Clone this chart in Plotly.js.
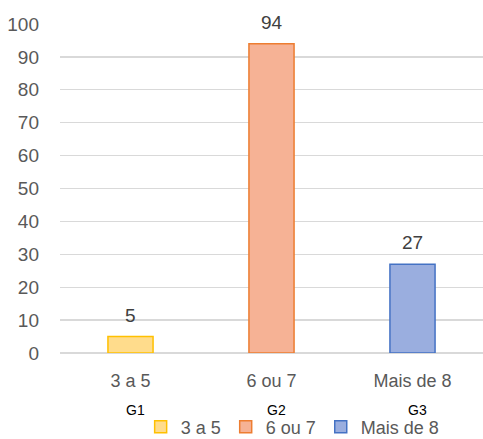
<!DOCTYPE html>
<html><head><meta charset="utf-8">
<script src="https://cdn.plot.ly/plotly-3.0.1.min.js"></script>
<style>html,body{margin:0;padding:0;background:#fff}</style>
</head><body><div id="chart" style="width:483px;height:439px"></div>
<script>
const categories = ["3 a 5", "6 ou 7", "Mais de 8"];
const groups = ["G1", "G2", "G3"];
const values = [5, 94, 27];
const fills = ["#ffdc8c", "#f6b295", "#9aaedf"];
const borders = ["#ffc000", "#ed7d31", "#4472c4"];
const yTicks = [0, 10, 20, 30, 40, 50, 60, 70, 80, 90, 100];

const traces = categories.map((c, i) => ({
  type: "bar",
  name: c,
  x: [c],
  y: [values[i]],
  marker: {color: fills[i], line: {color: borders[i], width: 1.5}},
  width: 0.32,
  hoverinfo: "skip"
}));

const valueLabels = categories.map((c, i) => ({
  x: c, xref: "x", y: values[i], yref: "y", yanchor: "bottom",
  text: String(values[i]), showarrow: false, yshift: 9,
  font: {size: 19, color: "#404040"}
}));

const groupLabels = groups.map((g, i) => ({
  x: categories[i], xref: "x", y: -0.173, yref: "paper", yanchor: "middle",
  text: g, showarrow: false, xshift: 5,
  font: {size: 14, color: "#000", family: "Liberation Sans, Arial, sans-serif"}
}));

Plotly.newPlot("chart", traces, {
  width: 483, height: 439,
  margin: {l: 60, r: 0, t: 24, b: 86, autoexpand: false},
  paper_bgcolor: "#fff", plot_bgcolor: "#fff",
  font: {family: "Liberation Sans, Arial, sans-serif", color: "#595959", size: 18},
  barmode: "overlay",
  showlegend: true,
  legend: {orientation: "h", x: 0.55, xanchor: "center", yref: "container", y: 1 - 427 / 439, yanchor: "middle",
    font: {size: 18, color: "#595959"}, itemwidth: 30, traceorder: "normal", itemclick: false,
    tracegroupgap: 0},
  xaxis: {type: "category", range: [-0.5, 2.5], showgrid: false, showline: false, ticks: "",
    tickfont: {size: 18, color: "#595959"}, ticklabelstandoff: 15, fixedrange: true},
  yaxis: {range: [0, 100], tickvals: yTicks, showgrid: true, gridcolor: "#d9d9d9", gridwidth: 1.3,
    zeroline: true, zerolinecolor: "#d9d9d9", zerolinewidth: 1.3,
    tickfont: {size: 19, color: "#595959"}, ticks: "", ticklabelstandoff: 20, fixedrange: true},
  annotations: valueLabels.concat(groupLabels)
}, {displayModeBar: false, staticPlot: true});
</script></body></html>
